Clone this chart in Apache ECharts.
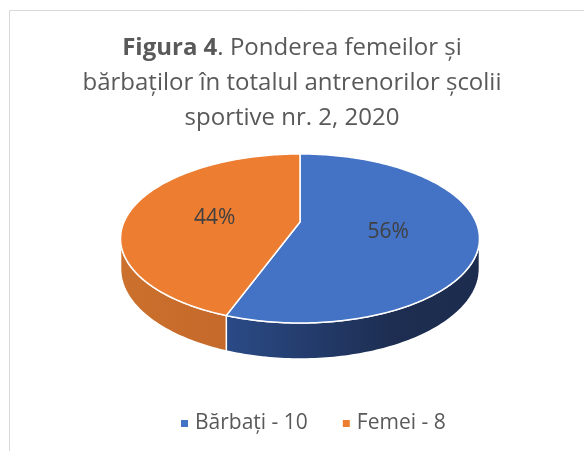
<!DOCTYPE html>
<html>
<head>
<meta charset="utf-8">
<script src="https://cdn.jsdelivr.net/npm/echarts@6/dist/echarts.min.js"></script>
<style>
  html, body { margin: 0; padding: 0; background: #fff; }
  #chart { width: 584px; height: 451px; }
</style>
</head>
<body>
<div id="chart"></div>
<script>
var categories = ['Bărbați', 'Femei'];
var values = [10, 8];
var colors = ['#4472C4', '#ED7D31'];
// side shading, left -> right
var sideColors = [
    ['#3159a0', '#2a4a86', '#1d2e52', '#1c2c4e'],
    ['#cc702d', '#c4692a', '#a85a23', '#a55822']
];

var total = values.reduce(function(a, b) { return a + b; }, 0);

// fake perspective for the tilted disc
var cx = 300, cy = 222;      // projected centre of the top face
var kx = 176, ky = 81.3;     // horizontal / vertical radius factors
var persp = 0.195;           // how much the far edge shrinks
var depth = 29;              // thickness of the disc
var rad = Math.PI / 180;
var silL = 90 + Math.asin(persp) / rad;   // outline of the side, degrees
var silR = 360 - silL;

function proj(deg, f, drop) {
    var t = deg * rad;
    var w = 1 + persp * f * Math.cos(t);
    return [cx + kx * f * Math.sin(t) / w, cy - ky * f * Math.cos(t) / w + (drop || 0) / w];
}

function arc(a1, a2, drop) {
    var pts = [];
    var n = Math.max(2, Math.ceil(Math.abs(a2 - a1)));
    for (var i = 0; i <= n; i++) {
        pts.push(proj(a1 + (a2 - a1) * i / n, 1, drop));
    }
    return pts;
}

function startAngle(idx) {
    var s = 0;
    for (var i = 0; i < idx; i++) s += values[i];
    return s / total * 360;
}

function makeRender(idx) {
    return function(params, api) {
        var v = api.value(0);
        var a1 = startAngle(idx);
        var a2 = a1 + v / total * 360;
        var children = [];

        // visible part of the side wall
        var s1 = Math.max(a1, silL), s2 = Math.min(a2, silR);
        if (s2 > s1) {
            var top = arc(s1, s2, 0);
            var bottom = arc(s2, s1, depth);
            var sc = sideColors[idx];
            children.push({
                type: 'polygon',
                z2: 1,
                shape: { points: top.concat(bottom) },
                style: {
                    fill: new echarts.graphic.LinearGradient(120, 0, 480, 0, [
                        { offset: 0, color: sc[0] },
                        { offset: 0.3, color: sc[1] },
                        { offset: 0.75, color: sc[2] },
                        { offset: 1, color: sc[3] }
                    ], true),
                    stroke: '#fff',
                    lineWidth: 1.5
                }
            });
        }

        // top face
        children.push({
            type: 'polygon',
            z2: 5,
            shape: { points: [[cx, cy]].concat(arc(a1, a2, 0)) },
            style: {
                fill: colors[idx],
                stroke: '#fff',
                lineWidth: 1.5
            }
        });

        // percentage label
        var mid = (a1 + a2) / 2;
        var p = proj(mid, 0.5, 0);
        children.push({
            type: 'text',
            z2: 10,
            x: p[0],
            y: p[1] + 3,
            style: {
                text: Math.round(v / total * 100) + '%',
                fill: '#404040',
                font: '21px "Open Sans"',
                align: 'center',
                verticalAlign: 'middle'
            }
        });

        return { type: 'group', children: children };
    };
}

var chart = echarts.init(document.getElementById('chart'));
chart.setOption({
    animation: false,
    backgroundColor: '#fff',
    graphic: [{
        type: 'rect',
        shape: { x: 9.5, y: 10.5, width: 600, height: 460 },
        style: { fill: 'none', stroke: '#d9d9d9', lineWidth: 1 },
        silent: true
    }],
    title: {
        left: 'center',
        top: 31,
        padding: 0,
        text: '{b|Figura 4}{n|. Ponderea femeilor și}\n{n|bărbaților în totalul antrenorilor școlii}\n{n|sportive nr. 2, 2020}',
        textStyle: {
            fontWeight: 'normal',
            rich: {
                b: { fontFamily: 'Open Sans', fontSize: 24, fontWeight: 'bold', color: '#595959', lineHeight: 35 },
                n: { fontFamily: 'Open Sans', fontSize: 24, fontWeight: 'normal', color: '#595959', lineHeight: 35 }
            }
        }
    },
    legend: {
        bottom: 17,
        left: 181,
        padding: 0,
        icon: 'rect',
        itemWidth: 7,
        itemHeight: 7,
        itemGap: 35,
        data: categories,
        formatter: function(name) {
            return name + ' - ' + values[categories.indexOf(name)];
        },
        textStyle: { fontFamily: 'Open Sans', fontSize: 21, color: '#595959', padding: [0, 0, 0, 2] }
    },
    series: categories.map(function(name, i) {
        return {
            type: 'custom',
            name: name,
            coordinateSystem: 'none',
            color: colors[i],
            itemStyle: { color: colors[i] },
            data: [values[i]],
            renderItem: makeRender(i)
        };
    })
});
</script>
</body>
</html>
